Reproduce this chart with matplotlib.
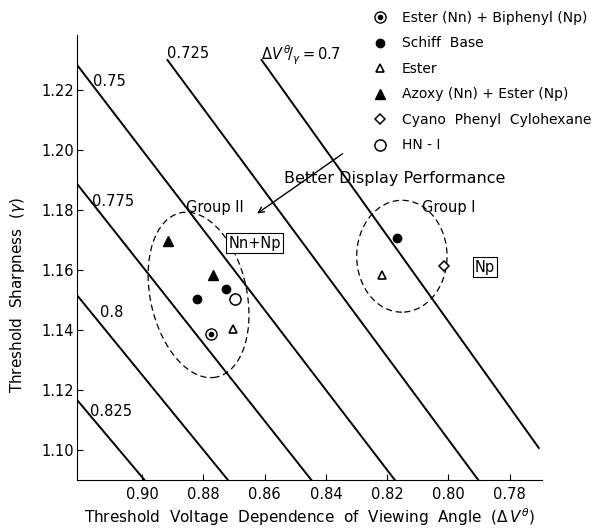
import numpy as np
import matplotlib
matplotlib.use("Agg")
import matplotlib.pyplot as plt
from matplotlib.patches import Ellipse
from matplotlib.legend_handler import HandlerTuple

plt.rcParams['font.family'] = 'DejaVu Sans'
plt.rcParams['font.size'] = 10

# iso lines: dV/gamma = const
ratios = [0.7, 0.725, 0.75, 0.775, 0.8, 0.825]
ratio_labels = [r'$\Delta V\,^{\theta}\!/_{\gamma}=0.7$', '0.725', '0.75', '0.775', '0.8', '0.825']
label_x = [0.8613, 0.8918, 0.916, 0.9164, 0.9138, 0.917]
label_y = [1.2317, 1.2323, 1.2227, 1.183, 1.146, 1.1127]

# materials (x = dV theta, y = gamma)
ester_biph_x, ester_biph_y = [0.8775], [1.1387]
schiff_x, schiff_y = [0.8822, 0.8725, 0.8168], [1.1503, 1.1537, 1.1707]
ester_x, ester_y = [0.8705, 0.8217], [1.1403, 1.1583]
azoxy_x, azoxy_y = [0.8915, 0.8768], [1.1697, 1.1583]
cyano_x, cyano_y = [0.8014], [1.1613]
hn_x, hn_y = [0.8696], [1.1503]

xticks = [0.90, 0.88, 0.86, 0.84, 0.82, 0.80, 0.78]
yticks = [1.10, 1.12, 1.14, 1.16, 1.18, 1.20, 1.22]

fig = plt.figure(figsize=(5.99, 5.29), dpi=100)
ax = fig.add_axes([0.1285, 0.0926, 0.776, 0.841])
x0, x1 = 0.9213, 0.7695
y0, y1 = 1.09, 1.2383
ax.set_xlim(x0, x1)
ax.set_ylim(y0, y1)

ytop = 1.23
for r in ratios:
    ybot = 1.1007 if r == 0.7 else y0
    ys = np.array([ybot, ytop])
    xs = r * ys
    if xs[1] > x0:
        ys[1] = x0 / r
        xs[1] = x0
    ax.plot(xs, ys, color='black', lw=1.4)

for t, lx, ly in zip(ratio_labels, label_x, label_y):
    ax.text(lx, ly, t, ha='left', va='center', fontsize=10.5)

# groups
ax.add_patch(Ellipse((0.8816, 1.1517), 0.0315, 0.056, angle=-12,
                     fill=False, ls=(0, (5, 3)), lw=0.9, color='black'))
ax.add_patch(Ellipse((0.8152, 1.1646), 0.0295, 0.0373, angle=0,
                     fill=False, ls=(0, (5, 3)), lw=0.9, color='black'))
ax.text(0.8763, 1.1810, 'Group II', ha='center', va='center', fontsize=10.5)
ax.text(0.7999, 1.1807, 'Group I', ha='center', va='center', fontsize=10.5)
ax.text(0.8632, 1.1690, 'Nn+Np', ha='center', va='center', fontsize=10.5,
        bbox=dict(boxstyle='square,pad=0.15', fc='white', ec='black', lw=0.8))
ax.text(0.7881, 1.1610, 'Np', ha='center', va='center', fontsize=10.5,
        bbox=dict(boxstyle='square,pad=0.15', fc='white', ec='black', lw=0.8))
ax.text(0.8175, 1.1906, 'Better Display Performance', ha='center', va='center',
        fontsize=11.5)
ax.annotate('', xy=(0.8632, 1.1783), xytext=(0.8338, 1.1993),
            arrowprops=dict(arrowstyle='->', color='black', lw=1.0))

ms = 6
h1a, = ax.plot(ester_biph_x, ester_biph_y, 'o', ms=8, mfc='white', mec='black', mew=1.0, ls='none')
h1b, = ax.plot(ester_biph_x, ester_biph_y, 'o', ms=3, mfc='black', mec='black', ls='none')
h2, = ax.plot(schiff_x, schiff_y, 'o', ms=ms, color='black', ls='none')
h3, = ax.plot(ester_x, ester_y, '^', ms=ms, mfc='white', mec='black', mew=1.2, ls='none')
h4, = ax.plot(azoxy_x, azoxy_y, '^', ms=ms + 1, color='black', ls='none')
h5, = ax.plot(cyano_x, cyano_y, 'D', ms=ms - 1, mfc='white', mec='black', mew=1.1, ls='none')
h6, = ax.plot(hn_x, hn_y, 'o', ms=ms + 2, mfc='white', mec='black', mew=1.1, ls='none')

fig.legend([(h1a, h1b), h2, h3, h4, h5, h6],
           ['Ester (Nn) + Biphenyl (Np)', 'Schiff  Base', 'Ester',
            'Azoxy (Nn) + Ester (Np)', 'Cyano  Phenyl  Cylohexane', 'HN - I'],
           handler_map={tuple: HandlerTuple(ndivide=1, pad=0)},
           loc='upper left', bbox_to_anchor=(0.613, 0.99), frameon=False,
           fontsize=10, handlelength=1.0, handletextpad=1.08, labelspacing=0.83,
           borderaxespad=0)

ax.spines['top'].set_visible(False)
ax.spines['right'].set_visible(False)
ax.set_xticks(xticks)
ax.set_xticklabels(['0.90', '0.88', '0.86', '0.84', '0.82', '0.80', '0.78'])
ax.set_yticks(yticks)
ax.set_yticklabels(['1.10', '1.12', '1.14', '1.16', '1.18', '1.20', '1.22'])
ax.tick_params(axis='x', direction='in', length=4, labelsize=10.5, pad=5)
ax.tick_params(axis='y', direction='in', length=4, labelsize=10.5, pad=2)
ax.set_xlabel(r'Threshold  Voltage  Dependence  of  Viewing  Angle  ($\Delta\,V^{\theta}$)',
              fontsize=11, labelpad=3)
ax.set_ylabel(r'Threshold  Sharpness  ($\gamma$)', fontsize=11)
ax.yaxis.set_label_coords(-0.1075, 0.416)

fig.savefig('out.png', dpi=100)
